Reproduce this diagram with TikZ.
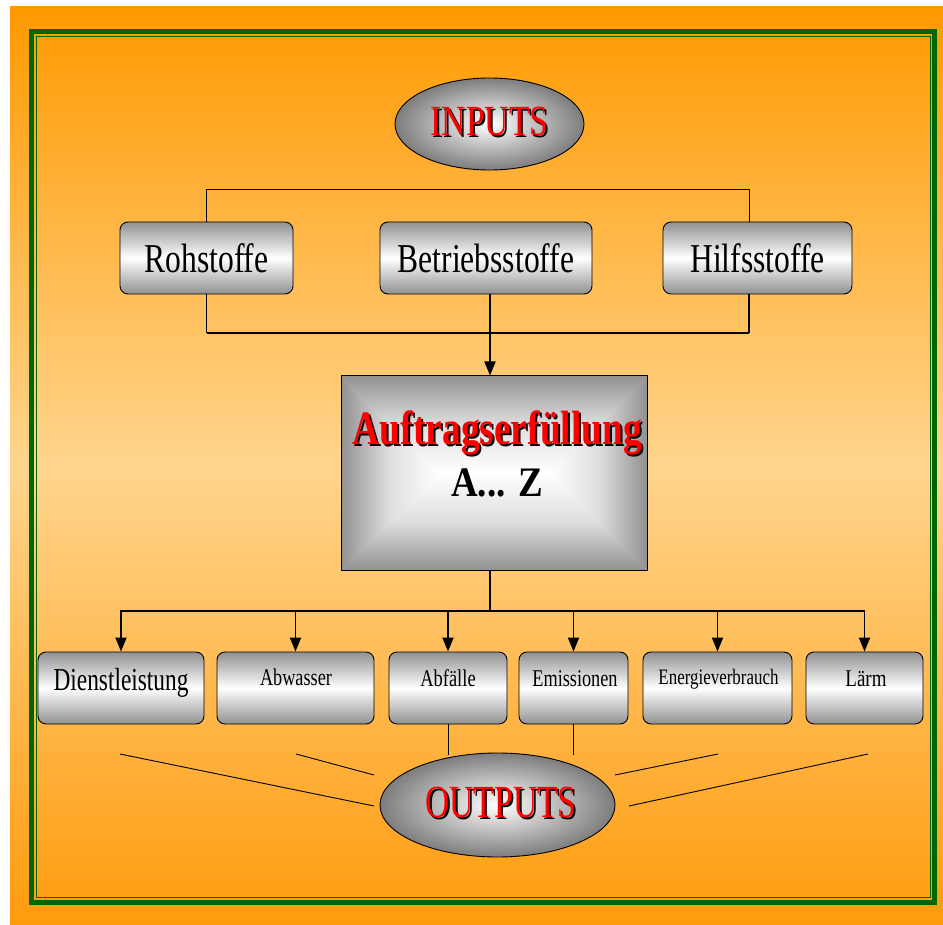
\documentclass[tikz,border=0pt]{standalone}
\usepackage{fontspec}
\setmainfont{Liberation Serif}
\usetikzlibrary{arrows.meta,shapes.geometric}

\definecolor{bgtop}{RGB}{255,153,0}
\definecolor{bgmid}{RGB}{255,213,142}
\definecolor{bgbot}{RGB}{255,155,12}
\definecolor{framegreen}{RGB}{0,102,0}
\definecolor{boxgray}{RGB}{145,145,145}
\definecolor{boxlight}{RGB}{222,222,222}
\definecolor{ellgray}{RGB}{125,125,125}

% edge-to-centre gradients for the four parts of the process box
\pgfdeclarehorizontalshading{edgeleft}{100bp}{color(0bp)=(boxgray); color(25bp)=(boxgray);
  color(50bp)=(boxlight); color(75bp)=(white); color(100bp)=(white)}
\pgfdeclarehorizontalshading{edgeright}{100bp}{color(0bp)=(white); color(25bp)=(white);
  color(50bp)=(boxlight); color(75bp)=(boxgray); color(100bp)=(boxgray)}
\pgfdeclareverticalshading{edgetop}{100bp}{color(0bp)=(white); color(25bp)=(white);
  color(50bp)=(boxlight); color(75bp)=(boxgray); color(100bp)=(boxgray)}
\pgfdeclareverticalshading{edgebottom}{100bp}{color(0bp)=(boxgray); color(25bp)=(boxgray);
  color(50bp)=(boxlight); color(75bp)=(white); color(100bp)=(white)}

% horizontally condensed text
\newcommand{\squeeze}[2]{\scalebox{#1}[1]{#2}}

\begin{document}
\begin{tikzpicture}[x=1pt,y=-1pt,
  stuffbox/.style={draw=black, line width=0.9pt, rounded corners=8pt,
    top color=boxgray, bottom color=boxgray, middle color=white,
    inner sep=0pt, minimum height=72pt},
  outbox/.style={stuffbox},
  pill/.style={ellipse, draw=black, line width=0.9pt, inner sep=0pt,
    inner color=white, outer color=ellgray},
  lbl/.style={inner sep=0pt, anchor=base},
  thinline/.style={line width=0.9pt},
  midline/.style={line width=1.4pt},
  busline/.style={line width=2.6pt},
  flowline/.style={line width=1.8pt},
  flowarrow/.style={flowline, -{Triangle[length=14pt,width=11pt]}},
]
\useasboundingbox (0,0) rectangle (943,925);

% page background and frame
\shade[top color=bgtop, bottom color=bgbot, middle color=bgmid] (10,7) rectangle (943,925);
\draw[framegreen, line width=5pt] (31.5,31.5) rectangle (934.5,902.5);
\draw[framegreen, line width=1.3pt] (36.5,36.5) rectangle (930.5,897.5);

% INPUTS
\node[pill, minimum width=189pt, minimum height=92pt] (inputs) at (489.5,124) {};
\node[lbl, font={\fontsize{43}{45}\selectfont}, text=black] (inputsshadow) at (491.5,138) {\squeeze{0.78}{INPUTS}};
\node[lbl, font={\fontsize{43}{45}\selectfont}, text=red] (inputstext) at (489.5,136) {\squeeze{0.78}{INPUTS}};

% input materials
\node[stuffbox, minimum width=173pt, font={\fontsize{41}{43}\selectfont}] (roh) at (206.5,258) {\squeeze{0.77}{Rohstoffe}};
\node[stuffbox, minimum width=212pt, font={\fontsize{41}{43}\selectfont}] (betr) at (486,258) {\squeeze{0.77}{Betriebsstoffe}};
\node[stuffbox, minimum width=189pt, font={\fontsize{41}{43}\selectfont}] (hilf) at (757.5,258) {\squeeze{0.77}{Hilfsstoffe}};
\coordinate (hilfup) at ([xshift=-8.5pt]hilf.north);
\coordinate (hilfdown) at ([xshift=-8.5pt]hilf.south);
\coordinate (bus) at (490,333);

% central process box: gradient from every edge towards a central ridge
\node[draw=black, line width=1pt, minimum width=306pt, minimum height=194pt, inner sep=0pt,
  path picture={
    \coordinate (ridgeL) at ([xshift=97pt]path picture bounding box.west);
    \coordinate (ridgeR) at ([xshift=-97pt]path picture bounding box.east);
    \shade[shading=edgetop]
      (path picture bounding box.north west) -- (path picture bounding box.north east)
      -- (ridgeR) -- (ridgeL) -- cycle;
    \shade[shading=edgebottom]
      (path picture bounding box.south west) -- (path picture bounding box.south east)
      -- (ridgeR) -- (ridgeL) -- cycle;
    \shade[shading=edgeleft]
      (path picture bounding box.north west) -- (path picture bounding box.south west)
      -- (ridgeL) -- cycle;
    \shade[shading=edgeright]
      (path picture bounding box.north east) -- (path picture bounding box.south east)
      -- (ridgeR) -- cycle;
  }] (main) at (494,473) {};
\node[lbl, font={\fontsize{48}{50}\selectfont\bfseries}, text=black] (auftragshadow) at (499.5,446.5) {\squeeze{0.78}{Auftragserfüllung}};
\node[lbl, font={\fontsize{48}{50}\selectfont\bfseries}, text=red] (auftrag) at (497.5,444) {\squeeze{0.78}{Auftragserfüllung}};
\node[lbl, font={\fontsize{42}{44}\selectfont\bfseries}, text=black] (az) at (497,496) {\squeeze{0.88}{A... Z}};

% output boxes
\node[outbox, minimum width=166pt] (dl) at (121,688) {};
\node[outbox, minimum width=157pt] (abw) at (295.5,688) {};
\node[outbox, minimum width=118pt] (abf) at (448,688) {};
\node[outbox, minimum width=109pt] (emi) at (573.5,688) {};
\node[outbox, minimum width=149pt] (ene) at (717.5,688) {};
\node[outbox, minimum width=117pt] (lm) at (864.5,688) {};

\node[lbl, font={\fontsize{32}{34}\selectfont}] (dltext) at (121,690) {\squeeze{0.73}{Dienstleistung}};
\node[lbl, font={\fontsize{24}{26}\selectfont}] (abwtext) at (296,685) {\squeeze{0.76}{Abwasser}};
\node[lbl, font={\fontsize{24}{26}\selectfont}] (abftext) at (448,686) {\squeeze{0.77}{Abfälle}};
\node[lbl, font={\fontsize{24}{26}\selectfont}] (emitext) at (575,686) {\squeeze{0.76}{Emissionen}};
\node[lbl, font={\fontsize{22}{24}\selectfont}] (enetext) at (718.5,684) {\squeeze{0.77}{Energieverbrauch}};
\node[lbl, font={\fontsize{24}{26}\selectfont}] (lmtext) at (866,686) {\squeeze{0.79}{Lärm}};

% OUTPUTS
\node[pill, minimum width=235pt, minimum height=104pt] (outputs) at (497.5,805) {};
\node[lbl, font={\fontsize{46}{48}\selectfont}, text=black] (outputsshadow) at (503,819) {\squeeze{0.73}{OUTPUTS}};
\node[lbl, font={\fontsize{46}{48}\selectfont}, text=red] (outputstext) at (501,817) {\squeeze{0.73}{OUTPUTS}};

% connectors above the process box
\draw[thinline] (roh.north) -- ++(0,-32) -| (hilfup);
\draw[midline] (roh.south) -- (roh.south |- bus);
\draw[midline] (hilfdown) -- (hilfdown |- bus);
\draw[busline] (roh.south |- bus) -- (hilfdown |- bus);
\draw[flowarrow] (betr.south -| bus) -- (main.north -| bus);

% connectors below the process box
\coordinate (hub) at (490,611);
\draw[flowline] (main.south -| hub) -- (hub);
\draw[flowline, line cap=rect] (dl.north |- hub) -- (lm.north |- hub);
\foreach \b in {dl,abw,abf,emi,ene,lm}
  \draw[flowarrow] (\b.north |- hub) -- (\b.north);

% rays towards OUTPUTS
\coordinate (r1a) at (120,754);  \coordinate (r1b) at (374,806);
\coordinate (r2a) at (296,754);  \coordinate (r2b) at (374,775);
\coordinate (r5a) at (718,754);  \coordinate (r5b) at (615,775);
\coordinate (r6a) at (868,754);  \coordinate (r6b) at (629,806);
\draw[thinline] (r1a) -- (r1b);
\draw[thinline] (r2a) -- (r2b);
\draw[thinline] (r5a) -- (r5b);
\draw[thinline] (r6a) -- (r6b);
\draw[thinline] (abf.south) -- ++(0,31);
\draw[thinline] (emi.south) -- ++(0,31);
\end{tikzpicture}
\end{document}
